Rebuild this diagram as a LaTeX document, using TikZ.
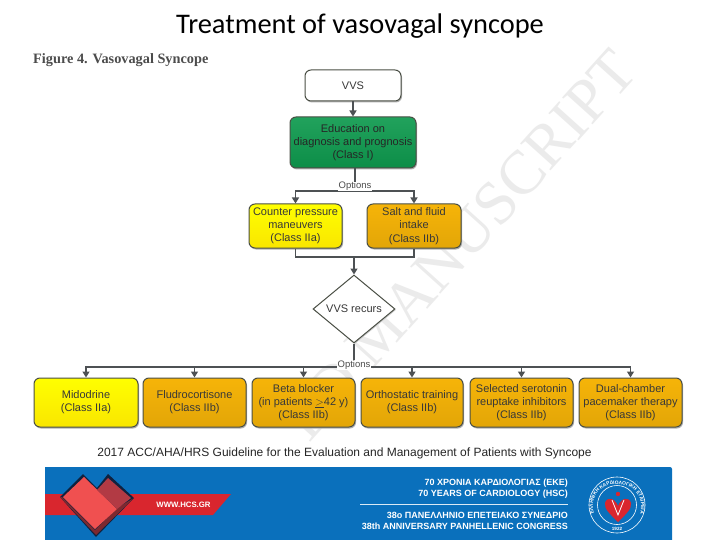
\documentclass[tikz,border=0pt]{standalone}
\usepackage{fontspec}
\setmainfont{Liberation Sans}
\newfontfamily\titlefont{Carlito}
\newfontfamily\wmfont{Liberation Serif}
\usetikzlibrary{shapes.geometric,arrows.meta,calc,shadows,decorations.text}
\definecolor{green1}{HTML}{0E9A4E}
\definecolor{yell1}{HTML}{F8F400}
\definecolor{oran1}{HTML}{F6B408}
\definecolor{edge1}{HTML}{4A4F45}
\definecolor{line1}{HTML}{4D5154}
\definecolor{blue1}{HTML}{0A70BC}
\definecolor{red1}{HTML}{D9262E}
\definecolor{red2}{HTML}{F05050}
\definecolor{red3}{HTML}{B23A44}
\definecolor{navy1}{HTML}{10223F}
\definecolor{wm}{HTML}{EBEBEB}
\tikzset{
  x=1pt,y=-1pt,
  flowbox/.style={draw=edge1,line width=1pt,rounded corners=6pt,align=center,font=\fontsize{11}{13.2}\selectfont,text=black!78,inner sep=0pt,
     general shadow={shadow xshift=1pt,shadow yshift=-1.5pt,fill=black!30}},
  greenbox/.style={flowbox,top color=green1!92!white,bottom color=green1!92!black,text=black!85},
  yellbox/.style={flowbox,top color=yellow,bottom color=yell1!88!orange},
  oranbox/.style={flowbox,top color=oran1,bottom color=oran1!92!black},
  conn/.style={draw=line1,line width=1.3pt},
  arr/.style={conn,-{Triangle[length=6pt,width=7pt]}},
  optlabel/.style={font=\fontsize{9.5}{11}\selectfont,fill=white,inner sep=0.5pt,text=black!70},
  banner/.style={font=\bfseries\fontsize{9}{10}\selectfont,text=white,anchor=east,inner sep=0pt}
}
\begin{document}
\begin{tikzpicture}
\useasboundingbox (0,0) rectangle (720,540);
\fill[white] (0,0) rectangle (720,540);
% watermark
\node[font=\wmfont\fontsize{62}{62}\selectfont,text=wm,rotate=48,anchor=center] (wmark) at (491,208) {MANUSCRIPT};
\begin{scope}
\clip (200,300) rectangle (400,445);
\node[font=\wmfont\fontsize{62}{62}\selectfont,text=wm,rotate=48,anchor=east] (wmarkb) at (352,366) {ED};
\end{scope}
\node[font=\fontsize{28.4}{32}\selectfont\titlefont,text=black] (title) at (360,26) {Treatment of vasovagal syncope};
\node[font=\wmfont\bfseries\fontsize{14.3}{16}\selectfont,text=black!70,anchor=west,inner sep=0pt] (fig) at (33,60) {Figure 4. Vasovagal Syncope};
% boxes
\node[flowbox,fill=white,minimum width=96pt,minimum height=31pt] (vvs) at (353,85.5) {VVS};
\node[greenbox,minimum width=126pt,minimum height=51pt] (edu) at (353,142.5) {Education on\\diagnosis and prognosis\\(Class I)};
\node[yellbox,minimum width=93pt,minimum height=44pt] (cp) at (295.5,226) {Counter pressure\\maneuvers\\(Class IIa)};
\node[oranbox,minimum width=94pt,minimum height=44pt] (salt) at (414,226) {Salt and fluid\\intake\\(Class IIb)};
\node[diamond,draw=edge1,line width=1pt,fill=white,minimum width=82pt,minimum height=68pt,inner sep=0pt,font=\fontsize{11}{13}\selectfont,text=black!78,general shadow={shadow xshift=1pt,shadow yshift=-1pt,fill=black!20}] (rec) at (354,309) {VVS recurs};
\node[yellbox,minimum width=104pt,minimum height=49pt] (mid) at (86,402.5) {Midodrine\\(Class IIa)};
\node[oranbox,minimum width=103pt,minimum height=49pt] (flu) at (194.5,402.5) {Fludrocortisone\\(Class IIb)};
\node[oranbox,minimum width=103pt,minimum height=49pt] (beta) at (303.5,402.5) {Beta blocker\\(in patients $\underline{>}$42 y)\\(Class IIb)};
\node[oranbox,minimum width=102pt,minimum height=49pt] (orth) at (412,402.5) {Orthostatic training\\(Class IIb)};
\node[oranbox,minimum width=103pt,minimum height=49pt] (ssri) at (521.5,402.5) {Selected serotonin\\reuptake inhibitors\\(Class IIb)};
\node[oranbox,minimum width=103pt,minimum height=49pt] (dual) at (630.5,402.5) {Dual-chamber\\pacemaker therapy\\(Class IIb)};
% connectors
\draw[arr] (vvs) -- (edu);
\coordinate (opt1) at (355,186.5);
\coordinate (opt2) at (354,365);
\coordinate (merge) at (354,257);
\draw[conn] (edu.south -| opt1) -- (opt1);
\draw[arr] (opt1 |- 0,191) -| (cp.north);
\draw[arr] (opt1 |- 0,191) -| (salt.north);
\draw[conn] (cp.south) |- (merge);
\draw[conn] (salt.south) |- (merge);
\draw[arr] (merge) -- (rec.north);
\draw[conn] (rec.south) -- (opt2);
\foreach \t in {mid,flu,beta,orth,ssri,dual}{\draw[arr] (opt2 |- 0,367) -| (\t.north);}
\node[optlabel] (o1) at (opt1) {Options};
\node[optlabel] (o2) at (opt2) {Options};
\node[font=\fontsize{12}{14}\selectfont,text=black!85] (cite) at (344.5,453) {2017 ACC/AHA/HRS Guideline for the Evaluation and Management of Patients with Syncope};
% banner
\fill[blue1] (45,467) -- (45,540) -- (672,540) -- (672,469) arc[start angle=0,end angle=-90,radius=2] -- cycle;
\fill[red1] (45,494) -- (231,494) -- (213,515) -- (45,515) -- cycle;
\fill[navy1] (60,497) -- (83,474) -- (97,488) -- (108,474) -- (134,498) -- (96,537) -- cycle;
\fill[red3!70!black] (60,497) -- (62,497) -- (95,530) -- (117,508) -- (134,498) -- (96,535) -- cycle;
\fill[red2] (63,497) -- (84,477) -- (117,509) -- (95,529) -- cycle;
\fill[red3] (97,490) -- (108,478) -- (131,498) -- (117,509) -- cycle;
\node[font=\bfseries\fontsize{7.8}{9}\selectfont,text=white,inner sep=0pt] (www) at (183.5,504.5) {WWW.HCS.GR};
\node[banner] (b1) at (568,483) {70 ΧΡΟΝΙΑ ΚΑΡΔΙΟΛΟΓΙΑΣ (ΕΚΕ)};
\node[banner] (b2) at (568,494) {70 YEARS OF CARDIOLOGY (HSC)};
\draw[white!85!blue1,line width=0.5pt] (360,504) -- (568,504);
\node[banner] (b3) at (568,515) {38o ΠΑΝΕΛΛΗΝΙΟ ΕΠΕΤΕΙΑΚΟ ΣΥΝΕΔΡΙΟ};
\node[banner] (b4) at (568,526) {38th ANNIVERSARY PANHELLENIC CONGRESS};
% seal
\draw[white,line width=0.6pt] (617,505) circle[radius=28];
\draw[white,line width=0.6pt] (617,505) circle[radius=19.5];
\path[postaction={decorate},decoration={text along path,text={|\bfseries\fontsize{4.9}{5}\selectfont\color{white}|ΕΛΛΗΝΙΚΗ ΚΑΡΔΙΟΛΟΓΙΚΗ ΕΤΑΙΡΕΙΑ},text align=center}] (598,522) .. controls (586,505) and (596,484) .. (617,484) .. controls (638,484) and (648,505) .. (636,522);
\node[font=\bfseries\fontsize{4.6}{5}\selectfont,text=white,inner sep=0pt] (yr) at (617,528.5) {1922};
\fill[red1] (618,522) .. controls (610,514) and (604,509) .. (605,503) .. controls (607,496) and (615,498) .. (618,506) .. controls (621,498) and (629,496) .. (631,503) .. controls (632,509) and (626,514) .. (618,522) -- cycle;
\draw[white,line width=0.8pt] (612,500) -- (618,515) -- (624,500);
\fill[red1] (618,494) circle[radius=2.2];
\end{tikzpicture}
\end{document}
